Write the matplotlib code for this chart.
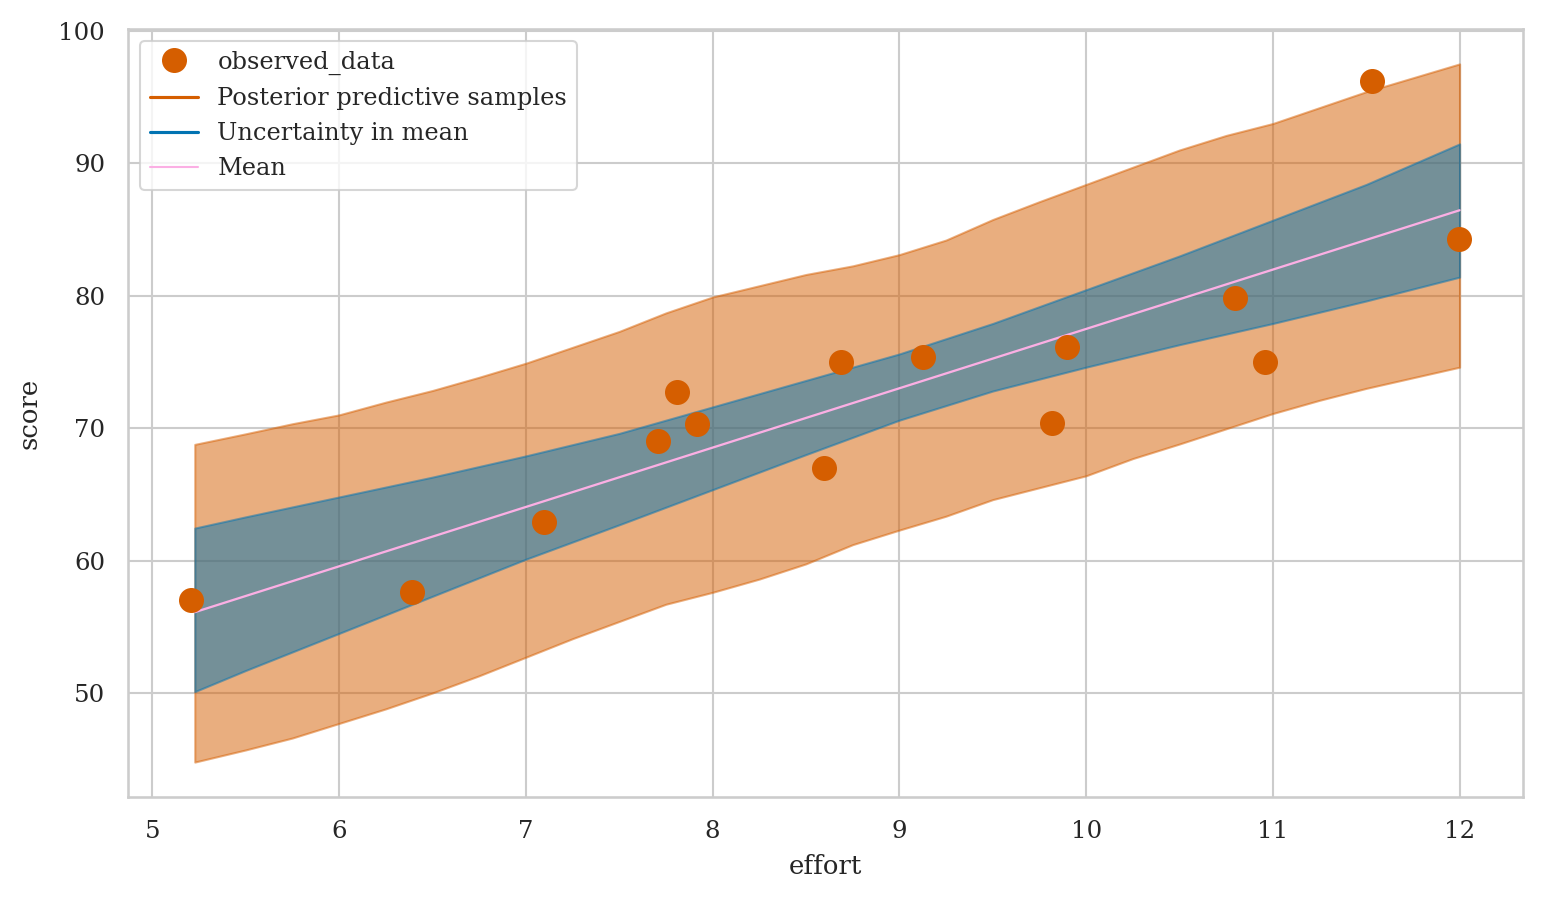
import numpy as np
import matplotlib
matplotlib.use("Agg")
import matplotlib.pyplot as plt
import seaborn as sns
from matplotlib.lines import Line2D

# ---- data ----
effort = [5.209, 6.391, 7.098, 7.708, 7.810, 7.917, 8.596, 8.687, 9.126,
          9.816, 9.897, 10.796, 10.956, 11.529, 11.995]
score = [57.0, 57.6, 62.9, 69.0, 72.7, 70.3, 67.0, 75.0, 75.4,
         70.4, 76.1, 79.8, 75.0, 96.2, 84.3]

# posterior predictive HDI band
pp_x = [5.227, 5.5, 5.75, 6.0, 6.25, 6.5, 6.75, 7.0, 7.25, 7.5, 7.75, 8.0, 8.25,
        8.5, 8.75, 9.0, 9.25, 9.5, 9.75, 10.0, 10.25, 10.5, 10.75, 11.0, 11.25,
        11.5, 11.75, 12.0]
pp_upper = [68.77, 69.57, 70.33, 71.0, 71.96, 72.84, 73.84, 74.9, 76.1, 77.3, 78.7,
            79.9, 80.75, 81.6, 82.25, 83.1, 84.2, 85.75, 87.1, 88.4, 89.7, 91.0,
            92.1, 93.0, 94.2, 95.4, 96.45, 97.5]
pp_lower = [44.78, 45.7, 46.6, 47.7, 48.8, 50.0, 51.3, 52.7, 54.1, 55.4, 56.7,
            57.6, 58.6, 59.75, 61.2, 62.3, 63.35, 64.6, 65.5, 66.4, 67.7, 68.8,
            69.95, 71.1, 72.1, 73.0, 73.8, 74.6]

# HDI of the mean
mu_x = [5.227, 5.5, 6.0, 6.5, 7.0, 7.5, 8.0, 8.5, 9.0, 9.5, 10.0, 10.5, 11.0, 11.5, 12.0]
mu_upper = [62.45, 63.3, 64.8, 66.3, 67.9, 69.6, 71.6, 73.6, 75.6, 77.9, 80.45, 83.0, 85.7, 88.4, 91.46]
mu_lower = [50.1, 51.7, 54.5, 57.3, 60.1, 62.7, 65.35, 68.0, 70.6, 72.8, 74.6, 76.3, 77.9, 79.6, 81.4]

mean_x = [5.227, 12.0]
mean_y = [56.1, 86.45]

# ---- style ----
sns.set_theme(style="whitegrid", context="notebook")
plt.rcParams['font.family'] = ['DejaVu Serif']

ORANGE = "#d55e00"
BLUE = "#0173b2"
PINK = "#fbafe4"

fig = plt.figure(figsize=(1542 / 150, 901 / 150), dpi=150)
ax = fig.add_axes([128 / 1542, 1 - 797 / 901, (1523 - 128) / 1542, (797 - 29) / 901])

ax.fill_between(pp_x, pp_lower, pp_upper, color=ORANGE, alpha=0.5, lw=1, zorder=2)
ax.fill_between(mu_x, mu_lower, mu_upper, color=BLUE, alpha=0.5, lw=1, zorder=3)
ax.plot(mean_x, mean_y, color=PINK, lw=1.1, zorder=4)
ax.plot(effort, score, "o", color=ORANGE, ms=11, zorder=5)

ax.set_xlabel("effort", fontsize=12.5, labelpad=5.5)
ax.set_ylabel("score", fontsize=12.5, labelpad=8)
ax.set_xticks([5, 6, 7, 8, 9, 10, 11, 12])
ax.set_yticks([50, 60, 70, 80, 90, 100])
ax.tick_params(labelsize=11.7, pad=5)

handles = [
    Line2D([], [], ls="", marker="o", color=ORANGE, ms=11),
    Line2D([], [], color=ORANGE, lw=1.5),
    Line2D([], [], color=BLUE, lw=1.5),
    Line2D([], [], color=PINK, lw=1.0),
]
labels = ["observed_data", "Posterior predictive samples", "Uncertainty in mean", "Mean"]
ax.legend(handles, labels, loc="upper left", fontsize=11.6)

fig.savefig("out.png", dpi=150)
